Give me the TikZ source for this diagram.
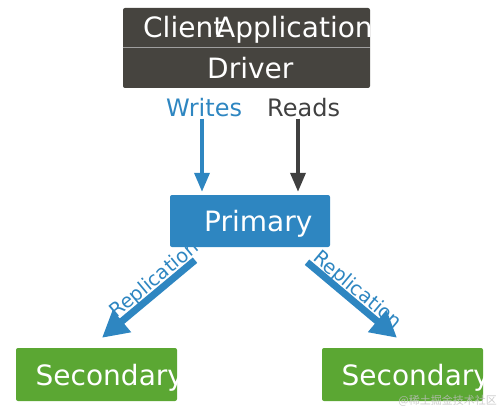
\documentclass[tikz,border=0pt]{standalone}
\usepackage{fontspec}
\setmainfont{DejaVu Sans}
\newfontfamily\cjk{Noto Sans CJK SC}
\usetikzlibrary{arrows.meta}
\definecolor{darkbox}{HTML}{46443F}
\definecolor{bluec}{HTML}{2E86C1}
\definecolor{greenc}{HTML}{5BA733}
\definecolor{readc}{HTML}{404040}
\pgfdeclarelayer{bg}
\pgfsetlayers{bg,main}
\tikzset{
  box/.style={rectangle, rounded corners=2pt, inner sep=0pt},
  big/.style={font=\fontsize{28}{28}\selectfont, text=white, inner sep=0pt, anchor=base west},
  lab/.style={font=\fontsize{24}{24}\selectfont, inner sep=0pt, anchor=base west},
  thinarrow/.style={line width=3.5pt, -{Triangle[width=15pt,length=19pt]}},
  thickarrow/.style={line width=7pt, bluec, -{Triangle[width=27pt,length=26pt]}},
  replab/.style={font=\fontsize{19.5}{19.5}\selectfont, text=bluec, inner sep=0pt, sloped, anchor=base}
}
\begin{document}
\begin{tikzpicture}[x=1pt,y=1pt]
\useasboundingbox (0,0) rectangle (500,-409);
% boxes
\node[box, fill=darkbox, minimum width=247pt, minimum height=80pt] (client) at (246.5,-48) {};
\node[box, fill=bluec, minimum width=160pt, minimum height=52pt] (primary) at (250,-221) {};
\node[box, fill=greenc, minimum width=161pt, minimum height=53pt] (sec1) at (96.5,-374.5) {};
\node[box, fill=greenc, minimum width=161pt, minimum height=53pt] (sec2) at (402.5,-374.5) {};
\draw[line width=1pt, gray!75] (client.west) -- (client.east);
% box texts, clipped to the boxes
\begin{scope}
  \clip (client.south west) rectangle (client.north east);
  \node[big] (tclient) at (143,-38) {Client};
  \node[big] (tapp) at (216,-38) {Application};
  \node[big] (tdriver) at (207,-79) {Driver};
\end{scope}
\node[big] (tprimary) at (204,-231) {Primary};
\begin{scope}
  \clip (sec1.south west) rectangle (sec1.north east);
  \node[big] (tsec1) at (35.5,-385) {Secondary};
\end{scope}
\begin{scope}
  \clip (sec2.south west) rectangle (sec2.north east);
  \node[big] (tsec2) at (341.5,-385) {Secondary};
\end{scope}
% labels
\node[lab, text=bluec] (writes) at (166,-117) {Writes};
\node[lab, text=readc] (reads) at (267,-117) {Reads};
% connectors
\coordinate (wx) at (202,-150);
\coordinate (rx) at (298,-150);
\draw[thinarrow, bluec] ([yshift=-1pt]writes.south -| wx) -- ([yshift=3pt]primary.north -| wx);
\draw[thinarrow, readc] ([yshift=-1pt]reads.south -| rx) -- ([yshift=3pt]primary.north -| rx);
\begin{pgfonlayer}{bg}
\draw[thickarrow] ([xshift=-55pt,yshift=-13pt]primary.south) -- ([xshift=5.5pt,yshift=10pt]sec1.north)
  node[replab, pos=0.36, yshift=5pt] (rep1) {Replication};
\draw[thickarrow] ([xshift=57pt,yshift=-15pt]primary.south) -- ([xshift=-5.5pt,yshift=10pt]sec2.north)
  node[replab, pos=0.48, yshift=5pt] (rep2) {Replication};
\end{pgfonlayer}
\node[anchor=east, inner sep=0pt, font=\cjk\fontsize{11}{11}\selectfont, text=black!25, opacity=0.8] (wm) at (497,-401) {@稀土掘金技术社区};
\end{tikzpicture}
\end{document}
